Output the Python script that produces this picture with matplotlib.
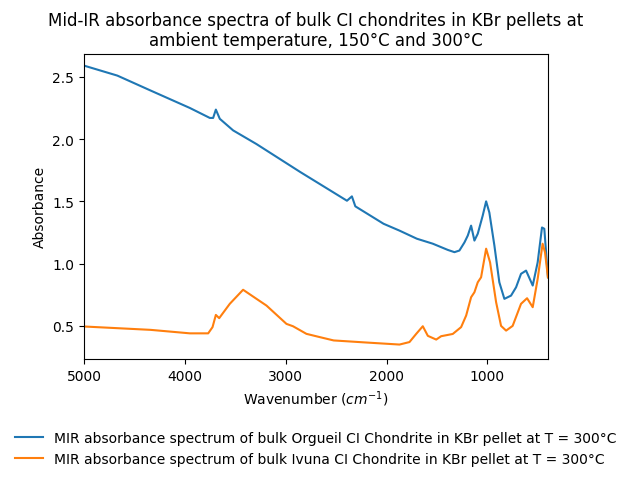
import matplotlib
matplotlib.use('Agg')
import matplotlib.pyplot as plt
import numpy as np

# Orgueil (blue)
wn_org = [5000, 4670, 4340, 3951, 3753, 3720, 3693, 3654, 3522, 3290, 2855, 2664, 2393, 2344,
          2310, 2030, 1872, 1700, 1542, 1393, 1327, 1278, 1228, 1195, 1162, 1129, 1096, 1047,
          1013, 981, 931, 882, 832, 766, 716, 667, 617, 551, 502, 459, 436, 400]
ab_org = [2.59, 2.51, 2.39, 2.25, 2.17, 2.17, 2.237, 2.163, 2.07, 1.96, 1.735, 1.64, 1.505, 1.54,
          1.46, 1.32, 1.265, 1.20, 1.16, 1.11, 1.092, 1.105, 1.17, 1.225, 1.305, 1.185, 1.24, 1.385,
          1.50, 1.41, 1.145, 0.85, 0.717, 0.743, 0.81, 0.918, 0.944, 0.824, 1.01, 1.29, 1.28, 0.89]

# Ivuna (orange)
wn_ivu = [5000, 4340, 3951, 3769, 3726, 3693, 3660, 3555, 3423, 3290, 3191, 2993, 2928, 2795,
          2664, 2525, 2195, 1872, 1773, 1706, 1641, 1591, 1508, 1459, 1344, 1261, 1211, 1162,
          1129, 1096, 1063, 1013, 974, 914, 865, 815, 750, 667, 607, 551, 502, 453, 429, 400]
ab_ivu = [0.495, 0.468, 0.44, 0.44, 0.49, 0.588, 0.562, 0.677, 0.79, 0.717, 0.663, 0.516, 0.497, 0.436,
          0.41, 0.383, 0.366, 0.35, 0.37, 0.436, 0.497, 0.42, 0.39, 0.417, 0.435, 0.49, 0.583, 0.73,
          0.77, 0.85, 0.89, 1.12, 1.01, 0.69, 0.50, 0.462, 0.50, 0.677, 0.722, 0.65, 0.877, 1.16, 1.09, 0.89]

fig, ax = plt.subplots(figsize=(6.32, 4.85), dpi=100)
fig.subplots_adjust(left=0.133, right=0.867, top=0.887, bottom=0.258)

ax.plot(wn_org, ab_org, label='MIR absorbance spectrum of bulk Orgueil CI Chondrite in KBr pellet at T = 300°C')
ax.plot(wn_ivu, ab_ivu, label='MIR absorbance spectrum of bulk Ivuna CI Chondrite in KBr pellet at T = 300°C')

ax.set_xlim(5000, 400)
ax.set_ylim(0.235, 2.685)
ax.set_xlabel('Wavenumber ($cm^{-1}$)')
ax.set_ylabel('Absorbance')
ax.set_title('Mid-IR absorbance spectra of bulk CI chondrites in KBr pellets at\nambient temperature, 150°C and 300°C')

fig.legend(loc='upper center', bbox_to_anchor=(0.5, 0.135), frameon=False)

fig.savefig('out.png', dpi=100)
